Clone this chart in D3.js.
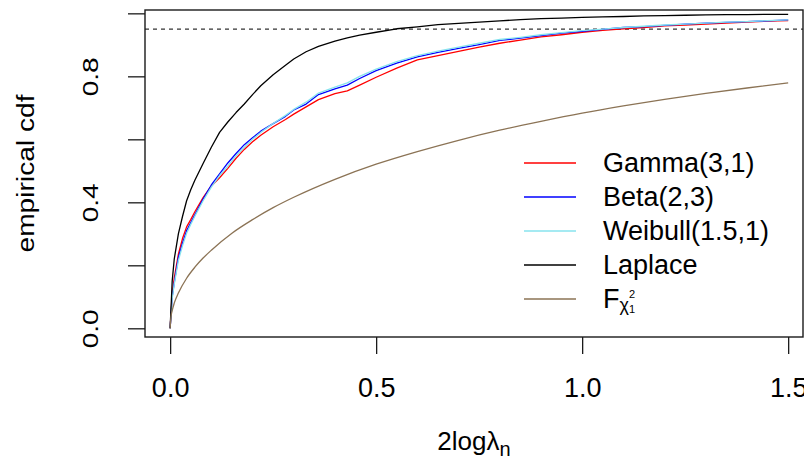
<!DOCTYPE html>
<html>
<head>
<meta charset="utf-8">
<script src="https://cdn.jsdelivr.net/npm/d3@7"></script>
<style>
  body { margin: 0; background: #fff; }
  svg { display: block; }
  text { font-family: "Liberation Sans", Arial, Helvetica, sans-serif; fill: #000; }
</style>
</head>
<body>
<svg id="chart" width="804" height="468"></svg>
<script>
// Evaluation grid (2 log lambda_n) shared by the empirical cdfs
const gridX = [0, 0.005, 0.01, 0.02, 0.03, 0.04, 0.05, 0.06, 0.08, 0.10, 0.12, 0.14, 0.16, 0.18, 0.20,
  0.22, 0.25, 0.28, 0.30, 0.33, 0.36, 0.40, 0.43, 0.46, 0.50, 0.55, 0.60, 0.65, 0.70, 0.75, 0.80,
  0.85, 0.90, 0.95, 1.00, 1.05, 1.10, 1.15, 1.20, 1.25, 1.30, 1.35, 1.40, 1.45, 1.50];

// Empirical cdf values for each simulated distribution
const gammaY = [0, 0.11, 0.16, 0.235, 0.285, 0.322, 0.345, 0.37, 0.415, 0.452, 0.478, 0.508, 0.54, 0.568, 0.592,
  0.613, 0.64, 0.663, 0.68, 0.703, 0.726, 0.745, 0.754, 0.772, 0.797, 0.826, 0.852, 0.866, 0.879, 0.893, 0.905,
  0.915, 0.925, 0.932, 0.94, 0.946, 0.951, 0.955, 0.96, 0.963, 0.966, 0.969, 0.972, 0.975, 0.977];
const betaY = [0, 0.10, 0.145, 0.225, 0.27, 0.31, 0.335, 0.36, 0.41, 0.455, 0.49, 0.525, 0.555, 0.583, 0.605,
  0.626, 0.65, 0.673, 0.693, 0.712, 0.742, 0.76, 0.772, 0.793, 0.818, 0.842, 0.862, 0.876, 0.889, 0.901, 0.914,
  0.921, 0.929, 0.937, 0.943, 0.949, 0.955, 0.958, 0.962, 0.966, 0.969, 0.971, 0.974, 0.976, 0.979];
const weibullY = [0, 0.095, 0.14, 0.215, 0.262, 0.302, 0.33, 0.356, 0.405, 0.448, 0.485, 0.515, 0.548, 0.575, 0.60,
  0.622, 0.65, 0.676, 0.695, 0.718, 0.747, 0.766, 0.779, 0.80, 0.823, 0.847, 0.866, 0.88, 0.893, 0.905, 0.917,
  0.924, 0.932, 0.939, 0.945, 0.95, 0.955, 0.959, 0.963, 0.966, 0.969, 0.972, 0.974, 0.977, 0.979];
const laplaceY = [0, 0.15, 0.22, 0.30, 0.355, 0.405, 0.44, 0.47, 0.523, 0.575, 0.622, 0.655, 0.685, 0.712, 0.742,
  0.77, 0.805, 0.835, 0.855, 0.878, 0.895, 0.912, 0.922, 0.931, 0.94, 0.951, 0.957, 0.964, 0.968, 0.972, 0.976,
  0.98, 0.983, 0.985, 0.987, 0.989, 0.99, 0.992, 0.993, 0.994, 0.995, 0.996, 0.996, 0.997, 0.997];

// Reference chi-square(1) distribution function
const chiX = [0, 0.002, 0.005, 0.01, 0.02, 0.04, 0.06, 0.08, 0.10, 0.15, 0.20, 0.25, 0.30, 0.40, 0.50,
  0.60, 0.70, 0.80, 0.90, 1.00, 1.10, 1.20, 1.30, 1.40, 1.50];
const chiY = [0, 0.036, 0.056, 0.080, 0.112, 0.159, 0.194, 0.223, 0.248, 0.302, 0.345, 0.383, 0.416, 0.473, 0.521,
  0.561, 0.597, 0.629, 0.657, 0.683, 0.706, 0.727, 0.746, 0.763, 0.779];

const refLevel = 0.95;
const xTicks = [0, 0.5, 1.0, 1.5];
const yTicks = [0, 0.2, 0.4, 0.6, 0.8, 1.0];
const yTickLabels = ["0.0", "", "0.4", "", "0.8", ""];

const seriesNames = ["Gamma(3,1)", "Beta(2,3)", "Weibull(1.5,1)", "Laplace"];
const seriesColors = ["#ff0000", "#0000ff", "#87e3ee", "#000000"];
const chiColor = "#8b7355";

const svg = d3.select("#chart");
const box = { left: 145, right: 803, top: 10, bottom: 337 };

const x = d3.scaleLinear().domain([-0.061, 1.536]).range([box.left, box.right]);
const y = d3.scaleLinear().domain([-0.0276, 1.0106]).range([box.bottom, box.top]);

svg.append("defs").append("clipPath").attr("id", "plotClip")
  .append("rect")
  .attr("x", box.left).attr("y", box.top)
  .attr("width", box.right - box.left).attr("height", box.bottom - box.top);

const plot = svg.append("g").attr("clip-path", "url(#plotClip)");

// 95% reference level
plot.append("line")
  .attr("x1", box.left).attr("x2", box.right)
  .attr("y1", y(refLevel)).attr("y2", y(refLevel))
  .attr("stroke", "#333").attr("stroke-width", 1.2)
  .attr("stroke-dasharray", "4,4");

const line = d3.line().x(d => x(d[0])).y(d => y(d[1]));
const seriesY = [gammaY, betaY, weibullY, laplaceY];

seriesY.forEach((vals, i) => {
  plot.append("path")
    .datum(gridX.map((gx, j) => [gx, vals[j]]))
    .attr("fill", "none")
    .attr("stroke", seriesColors[i])
    .attr("stroke-width", 1.3)
    .attr("stroke-linejoin", "round")
    .attr("d", line);
});

plot.append("path")
  .datum(chiX.map((cx, j) => [cx, chiY[j]]))
  .attr("fill", "none")
  .attr("stroke", chiColor)
  .attr("stroke-width", 1.3)
  .attr("d", line.curve(d3.curveMonotoneX));

// Frame around the plotting region
svg.append("rect")
  .attr("x", box.left).attr("y", box.top)
  .attr("width", box.right - box.left).attr("height", box.bottom - box.top)
  .attr("fill", "none").attr("stroke", "#1a1a1a").attr("stroke-width", 1.4);

// Axes
const xAxis = svg.append("g")
  .attr("transform", `translate(0,${box.bottom})`)
  .call(d3.axisBottom(x).tickValues(xTicks).tickFormat(d3.format(".1f"))
    .tickSize(17).tickSizeOuter(0).tickPadding(24));
xAxis.select(".domain").remove();
xAxis.selectAll(".tick line").attr("stroke", "#1a1a1a").attr("stroke-width", 1.3);
xAxis.selectAll(".tick text").attr("font-size", 27).attr("font-family", null);

const yAxis = svg.append("g")
  .attr("transform", `translate(${box.left},0)`)
  .call(d3.axisLeft(y).tickValues(yTicks).tickFormat((d, i) => yTickLabels[i])
    .tickSize(17).tickSizeOuter(0));
yAxis.select(".domain").remove();
yAxis.selectAll(".tick line").attr("stroke", "#1a1a1a").attr("stroke-width", 1.3);
yAxis.selectAll(".tick text")
  .filter(function () { return this.textContent !== ""; })
  .attr("font-size", 22).attr("font-family", null)
  .attr("x", null).attr("dy", null)
  .attr("text-anchor", "middle")
  .attr("textLength", 39).attr("lengthAdjust", "spacingAndGlyphs")
  .attr("transform", "translate(-47,0) rotate(-90)");

// Axis titles
const xTitle = svg.append("text")
  .attr("x", (box.left + box.right) / 2).attr("y", 450)
  .attr("text-anchor", "middle").attr("font-size", 26);
xTitle.append("tspan").text("2log");
xTitle.append("tspan").text("λ");
xTitle.append("tspan").attr("font-size", 20).attr("dy", 6).text("n");

svg.append("text")
  .attr("transform", `translate(34,${(box.top + box.bottom) / 2}) rotate(-90)`)
  .attr("text-anchor", "middle").attr("font-size", 23)
  .attr("textLength", 158).attr("lengthAdjust", "spacingAndGlyphs")
  .text("empirical cdf");

// Legend (no border)
const legend = svg.append("g").attr("transform", "translate(524,163)");
const rowH = 34;
const legendColors = seriesColors.concat([chiColor]);
legendColors.forEach((c, i) => {
  legend.append("line")
    .attr("x1", 0).attr("x2", 52)
    .attr("y1", i * rowH).attr("y2", i * rowH)
    .attr("stroke", c).attr("stroke-width", 1.3);
});
seriesNames.forEach((name, i) => {
  legend.append("text")
    .attr("x", 79).attr("y", i * rowH + 9)
    .attr("font-size", 27)
    .text(name);
});
const chiLabel = legend.append("text")
  .attr("x", 79).attr("y", 4 * rowH + 9)
  .attr("font-size", 27);
chiLabel.append("tspan").text("F");
chiLabel.append("tspan").attr("font-size", 18).attr("dy", 3).text("χ");
chiLabel.append("tspan").attr("font-size", 11).attr("dy", -13).text("2");
chiLabel.append("tspan").attr("font-size", 11).attr("dx", -6).attr("dy", 15).text("1");
</script>
</body>
</html>
